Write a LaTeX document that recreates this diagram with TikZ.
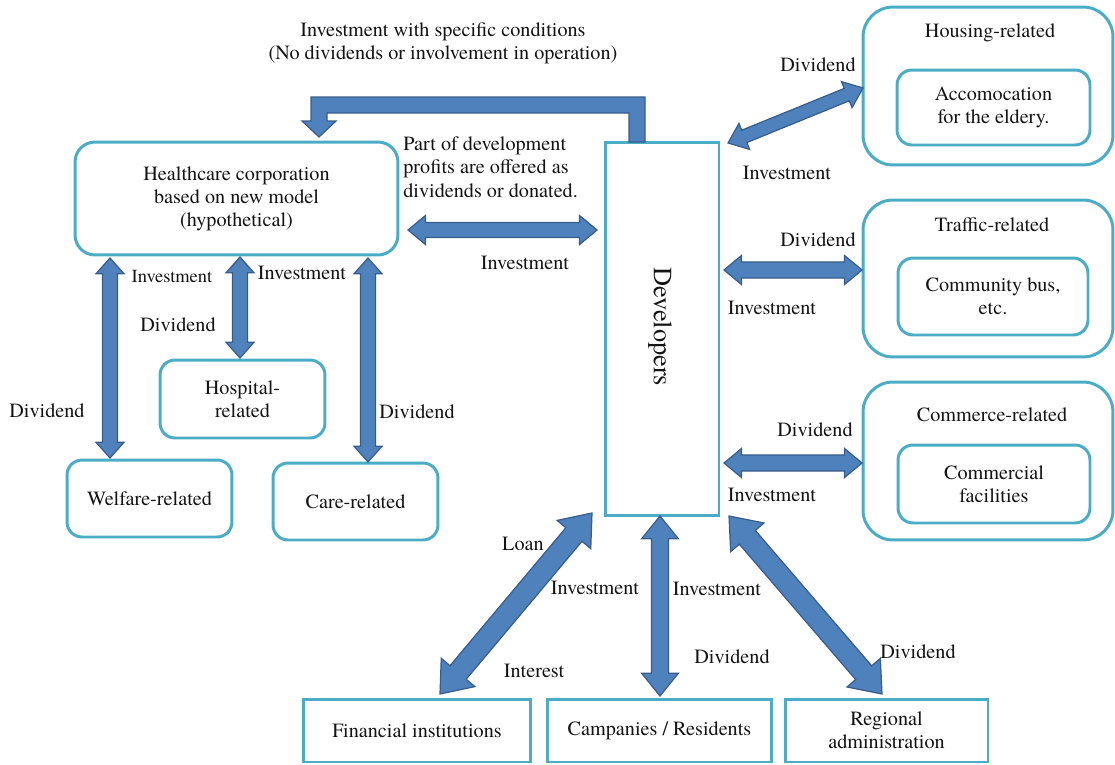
\documentclass[tikz,border=0pt]{standalone}
\usepackage{fontspec}
\setmainfont{texgyretermes-regular.otf}
\usetikzlibrary{calc}
\definecolor{boxc}{HTML}{4BACC6}
\definecolor{arrf}{HTML}{4F81BD}
\definecolor{arro}{HTML}{385D8A}
\definecolor{txt}{HTML}{141414}
% double-headed block arrow: #1,#2 end coordinates, #3 shaft half width, #4 head half width, #5 head length
\newcommand{\dblarr}[5]{%
  \draw[blockarrow] (#1)
    -- ($(#1)!#5!(#2)!#4!90:(#2)$) -- ($(#1)!#5!(#2)!#3!90:(#2)$)
    -- ($(#2)!#5!(#1)!#3!-90:(#1)$) -- ($(#2)!#5!(#1)!#4!-90:(#1)$)
    -- (#2)
    -- ($(#2)!#5!(#1)!#4!90:(#1)$) -- ($(#2)!#5!(#1)!#3!90:(#1)$)
    -- ($(#1)!#5!(#2)!#3!-90:(#2)$) -- ($(#1)!#5!(#2)!#4!-90:(#2)$)
    -- cycle;}
\begin{document}
\begin{tikzpicture}[x=0.02cm,y=-0.02cm,
  every node/.style={font=\rmfamily\fontsize{11.5}{13}\selectfont, text=txt},
  rbox/.style={draw=boxc, line width=1.7pt, rounded corners=#1, inner sep=0pt, align=center},
  rbox/.default=0.3cm,
  sbox/.style={draw=boxc, line width=1.7pt, inner sep=0pt, align=center},
  lbl/.style={inner sep=0pt, align=center},
  blockarrow/.style={fill=arrf, draw=arro, line width=0.7pt, line join=miter}]
\useasboundingbox (0,0) rectangle (1115,764);

% ---- boxes ----
\node[rbox=0.4cm, minimum width=6.46cm, minimum height=2.26cm] (hc) at (236.5,198.5)
  {Healthcare corporation\\based on new model\\(hypothetical)};
\node[sbox, minimum width=2.28cm, minimum height=7.48cm] (dev) at (662,329) {};
\node[lbl, rotate=-90, font=\rmfamily\fontsize{15}{18}\selectfont] (devt) at (660,327) {Developers};

\node[rbox=0.6cm, minimum width=5.0cm, minimum height=3.16cm] (hous) at (988,86) {};
\node[lbl] (houst) at (990,33) {Housing-related};
\node[rbox, minimum width=3.86cm, minimum height=1.5cm] (acc) at (993.5,107.5) {Accomocation\\for the eldery.};

\node[rbox=0.6cm, minimum width=5.0cm, minimum height=3.14cm] (traf) at (988,278.5) {};
\node[lbl] (traft) at (992,225) {Traffic-related};
\node[rbox, minimum width=3.8cm, minimum height=1.54cm] (bus) at (993,296.5) {Community bus,\\etc.};

\node[rbox=0.6cm, minimum width=5.0cm, minimum height=3.16cm] (comm) at (988,461) {};
\node[lbl] (commt) at (992,415) {Commerce-related};
\node[rbox, minimum width=3.84cm, minimum height=1.56cm] (fac) at (994,484) {Commercial\\facilities};

\node[rbox, minimum width=3.3cm, minimum height=1.56cm] (hosp) at (242.5,399) {Hospital-\\related};
\node[rbox, minimum width=3.3cm, minimum height=1.54cm] (welf) at (149.5,498.5) {Welfare-related};
\node[rbox, minimum width=3.3cm, minimum height=1.54cm] (care) at (355.5,501.5) {Care-related};

\node[sbox, minimum width=4.56cm, minimum height=1.26cm] (fin) at (417,730.5) {Financial institutions};
\node[sbox, minimum width=4.5cm, minimum height=1.26cm] (comp) at (659.5,730.5) {Campanies / Residents};
\node[sbox, minimum width=4.06cm, minimum height=1.26cm] (reg) at (886.5,730.5) {Regional\\administration};

% ---- arrow end points ----
\coordinate (hcE) at (408,230);   \coordinate (devW) at (597,230);
\coordinate (welfT) at (110,258); \coordinate (welfB) at (110,458);
\coordinate (hospT) at (240,257); \coordinate (hospB) at (240,358);
\coordinate (careT) at (368,258); \coordinate (careB) at (368,462);
\coordinate (devNE) at (728,143); \coordinate (housW) at (863,88);
\coordinate (devE1) at (724,270); \coordinate (trafW) at (862,270);
\coordinate (devE2) at (724,463); \coordinate (commW) at (862,463);
\coordinate (devSW) at (592,513); \coordinate (finN) at (440,694);
\coordinate (devS) at (660,516);  \coordinate (compN) at (660,696);
\coordinate (devSE) at (729,516); \coordinate (regN) at (882,694);

\dblarr{hcE}{devW}{4.3pt}{8.3pt}{10pt}
\dblarr{welfT}{welfB}{4.3pt}{8pt}{9pt}
\dblarr{hospT}{hospB}{4.3pt}{8pt}{9pt}
\dblarr{careT}{careB}{4.3pt}{8pt}{9pt}
\dblarr{devNE}{housW}{3.8pt}{8pt}{10pt}
\dblarr{devE1}{trafW}{4.6pt}{8.3pt}{10pt}
\dblarr{devE2}{commW}{4.6pt}{8.3pt}{10pt}
\dblarr{devSW}{finN}{6pt}{12.5pt}{16pt}
\dblarr{devS}{compN}{4.8pt}{10.5pt}{13pt}
\dblarr{devSE}{regN}{6pt}{12.5pt}{16pt}

% elbow arrow developers -> healthcare
\coordinate (e1) at (645,142); \coordinate (e2) at (319,137);
\draw[blockarrow] (e1) -- (645,97) -- (311,97) -- (311,121) -- (302,121) -- (e2)
  -- (336,121) -- (327,121) -- (327,113) -- (629,113) -- (629,142) -- cycle;

% ---- labels ----
\node[lbl] (l1) at (443,32) {Investment with specific conditions};
\node[lbl] (l2) at (443,55) {(No dividends or involvement in operation)};
\node[lbl, anchor=west, align=left, font=\rmfamily\fontsize{11.5}{13.4}\selectfont] (l3) at (403,167)
  {Part of development\\profits are offered as\\dividends or donated.};
\node[lbl] (l4) at (525,263) {Investment};
\node[lbl] (l5) at (818,65) {Dividend};
\node[lbl] (l6) at (787,173) {Investment};
\node[lbl] (l7) at (818,240) {Dividend};
\node[lbl] (l8) at (772,308) {Investment};
\node[lbl] (l9) at (815,430) {Dividend};
\node[lbl] (l10) at (772,495) {Investment};
\node[lbl, font=\rmfamily\fontsize{10.5}{12}\selectfont] (l11) at (172,277) {Investment};
\node[lbl] (l12) at (302,273) {Investment};
\node[lbl] (l13) at (178,325) {Dividend};
\node[lbl] (l14) at (47,411) {Dividend};
\node[lbl] (l15) at (417,412) {Dividend};
\node[lbl] (l16) at (523,544) {Loan};
\node[lbl] (l17) at (595,588) {Investment};
\node[lbl] (l18) at (534,671) {Interest};
\node[lbl] (l19) at (717,589) {Investment};
\node[lbl] (l20) at (732,657) {Dividend};
\node[lbl] (l21) at (918,652) {Dividend};
\end{tikzpicture}
\end{document}
